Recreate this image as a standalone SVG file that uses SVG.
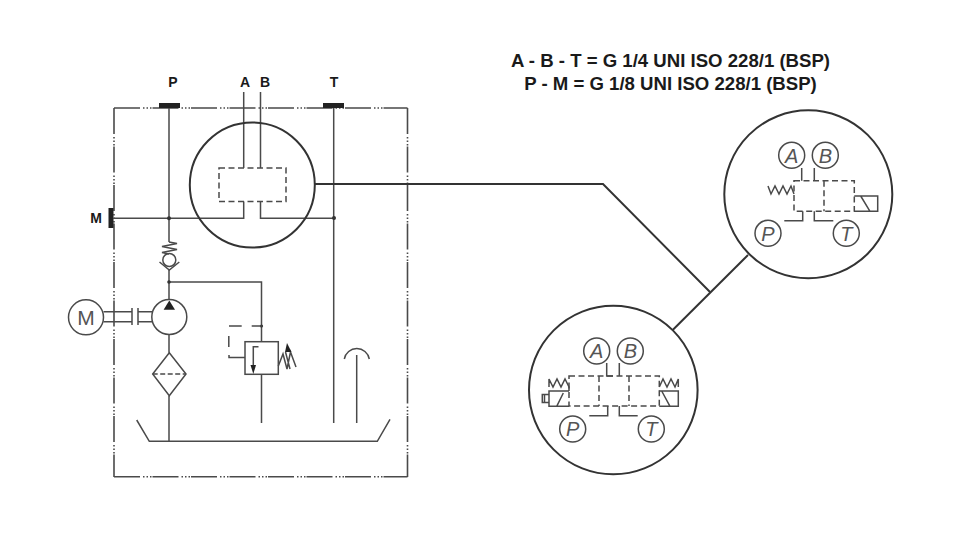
<svg xmlns="http://www.w3.org/2000/svg" width="960" height="540" viewBox="0 0 960 540">
<style>
.l{fill:none;stroke:#4a4a4a;stroke-width:1.5}
.h{fill:none;stroke:#333;stroke-width:2}
.d{fill:none;stroke:#4a4a4a;stroke-width:1.5;stroke-dasharray:6 3.5}
.f{fill:none;stroke:#4a4a4a;stroke-width:1.6;stroke-dasharray:26 3 1.5 2 1.5 2 1.5 1}
.b{fill:#222}
.k{fill:#333}
.t{font-family:"Liberation Sans",Arial,sans-serif;font-weight:bold;fill:#1a1a1a;text-anchor:middle}
.s{font-size:14px}
.n{font-size:18.6px}
.c{font-family:"Liberation Sans",Arial,sans-serif;font-style:italic;font-size:20px;fill:#555;text-anchor:middle}
</style>
<rect width="960" height="540" fill="#fff"/>
<g id="title">
<text class="t n" x="670.5" y="67">A - B - T = G 1/4 UNI ISO 228/1 (BSP)</text>
<text class="t n" x="670.5" y="90">P - M = G 1/8 UNI ISO 228/1 (BSP)</text>
</g>
<g id="frame">
<path class="f" d="M114 108V477"/>
<path class="f" d="M407.5 108V477"/>
<path class="f" d="M114 108H407.5"/>
<path class="f" d="M114 476.7H407.5"/>
</g>
<g id="port-P"><rect class="b" x="159" y="103" width="21" height="5"/><text class="t s" x="173" y="87">P</text></g>
<g id="port-A"><text class="t s" x="245" y="87">A</text></g>
<g id="port-B"><text class="t s" x="265" y="87">B</text></g>
<g id="port-T"><rect class="b" x="323" y="103" width="21" height="5"/><text class="t s" x="334" y="87">T</text></g>
<g id="port-M"><rect class="b" x="108.5" y="208" width="5" height="20"/><text class="t s" x="96" y="223">M</text></g>
<g id="connectors">
<path class="l" d="M169 108V242M169 270V300"/>
<path class="l" d="M243.7 92V168M260.5 92V168"/>
<path class="l" d="M114 218.3H243.7V201.5M260.5 201.5V218.3H334"/>
<path class="l" d="M333.7 108V423"/>
<path class="l" d="M169 282H261.5V342M261.5 374.3V423"/>
<path class="l" d="M169 334.5V352.7M169 395.7V441.3"/>
<path class="l" d="M356.7 355V423"/>
<path class="h" d="M315 184H603L710 292"/>
<path class="h" d="M748 255L672.7 330"/>
<circle class="k" cx="169" cy="218.3" r="2"/>
<circle class="k" cx="334" cy="218" r="2"/>
<circle class="k" cx="169" cy="282" r="1.8"/>
<circle class="k" cx="261.5" cy="326" r="1.6"/>
</g>
<g id="valve-circle">
<circle class="h" cx="252.3" cy="185" r="62.5"/>
<rect class="d" x="219" y="168" width="67" height="33.5"/>
</g>
<g id="check-valve">
<path class="l" d="M169 242L177 243.5L162 246.5L177 249.5L162 252.5L169 254"/>
<circle class="l" cx="169.3" cy="260" r="6.5"/>
<path class="l" d="M159.5 262L169.3 270L179.3 262"/>
</g>
<g id="pump">
<circle class="l" cx="169.3" cy="317" r="17.5"/>
<path class="b" d="M169.3 300.5L175 309.7H163.6Z"/>
<path class="l" d="M152 311.7H138M152 321.7H138M138 308V325"/>
</g>
<g id="motor">
<circle class="l" cx="86" cy="317.3" r="17.5"/>
<text x="86" y="325" font-family="'Liberation Sans',Arial,sans-serif" font-size="21" fill="#555" text-anchor="middle">M</text>
<path class="l" d="M103.5 311.7H132M103.5 321.7H132M132 308V325"/>
</g>
<g id="filter">
<path class="l" d="M169.3 352.7L186 374L169.3 395.7L152.7 374Z"/>
<path class="l" d="M152.7 374H186" stroke-dasharray="5 2.5"/>
</g>
<g id="relief-valve">
<rect class="l" x="245" y="341.7" width="33.3" height="32.6"/>
<path class="l" d="M258.5 346.7H253.3V368"/>
<path class="b" d="M253.3 374L250.5 365H256Z"/>
<path class="l" d="M245 357.5H229V355M228.8 347V336M229 326H241.7M251.7 326H261.5" />
<path class="l" d="M278.3 366L283 354L287 369L290.5 352L296 367M285.5 352L290 369"/>
<path class="b" d="M287 343L291.5 352L285 352Z"/>
</g>
<g id="tank">
<path class="l" d="M136.7 420L149.3 441.3H377.3L390 419.3"/>
<path class="l" d="M344.3 359A12.7 12.7 0 0 1 369.3 359"/>
</g>
<g id="detail-single">
<circle class="h" cx="808.3" cy="194.3" r="84"/>
<circle class="l" cx="791.7" cy="155.3" r="13"/><text class="c" x="791.7" y="162.5">A</text>
<circle class="l" cx="825.3" cy="155.3" r="13"/><text class="c" x="825.3" y="162.5">B</text>
<circle class="l" cx="768" cy="233.3" r="13"/><text class="c" x="768" y="240.5">P</text>
<circle class="l" cx="846.3" cy="233.3" r="13"/><text class="c" x="846.3" y="240.5">T</text>
<rect class="d" x="794" y="180.7" width="60.3" height="30.6"/>
<path class="d" d="M824 180.7V211.3"/>
<path class="l" d="M801.7 168V180.7M814.3 168V180.7"/>
<path class="l" d="M802.7 211.3V220.7H784.3M814.3 211.3V220.7H833.3"/>
<path class="l" d="M768 186L771 194L775 186L779 194L783 186L787 194L791 186L794 194"/>
<path class="l" d="M854.3 196H877.7V211.3H854.3M860.7 196L870 211.3"/>
</g>
<g id="detail-double">
<circle class="h" cx="613.3" cy="390" r="84.3"/>
<circle class="l" cx="596.7" cy="351" r="13"/><text class="c" x="596.7" y="358.2">A</text>
<circle class="l" cx="630.3" cy="351" r="13"/><text class="c" x="630.3" y="358.2">B</text>
<circle class="l" cx="572.7" cy="429" r="13"/><text class="c" x="572.7" y="436.2">P</text>
<circle class="l" cx="651.3" cy="429" r="13"/><text class="c" x="651.3" y="436.2">T</text>
<rect class="d" x="569" y="376" width="90.3" height="30"/>
<path class="d" d="M599 376V406M629 376V406"/>
<path class="l" d="M606.7 363V376H613M619.3 363V376"/>
<path class="l" d="M607.7 406V415.7H589.3M619.3 406V415.7H637.7"/>
<path class="l" d="M569 391H549V406.3H569M556.7 406.3L563.3 393"/>
<path class="l" d="M549 394.5H542.3V402.5H549M544.5 394.5V402.5"/>
<path class="l" d="M549 387V379L553 387L557 379L561 387L565 379L569 387V391"/>
<path class="l" d="M659.3 391H678.3V406.3H659.3M661.7 391L670 406.3"/>
<path class="l" d="M659.3 387L663 379L667 387L671 379L675 387L678.3 379V387"/>
</g>
</svg>
